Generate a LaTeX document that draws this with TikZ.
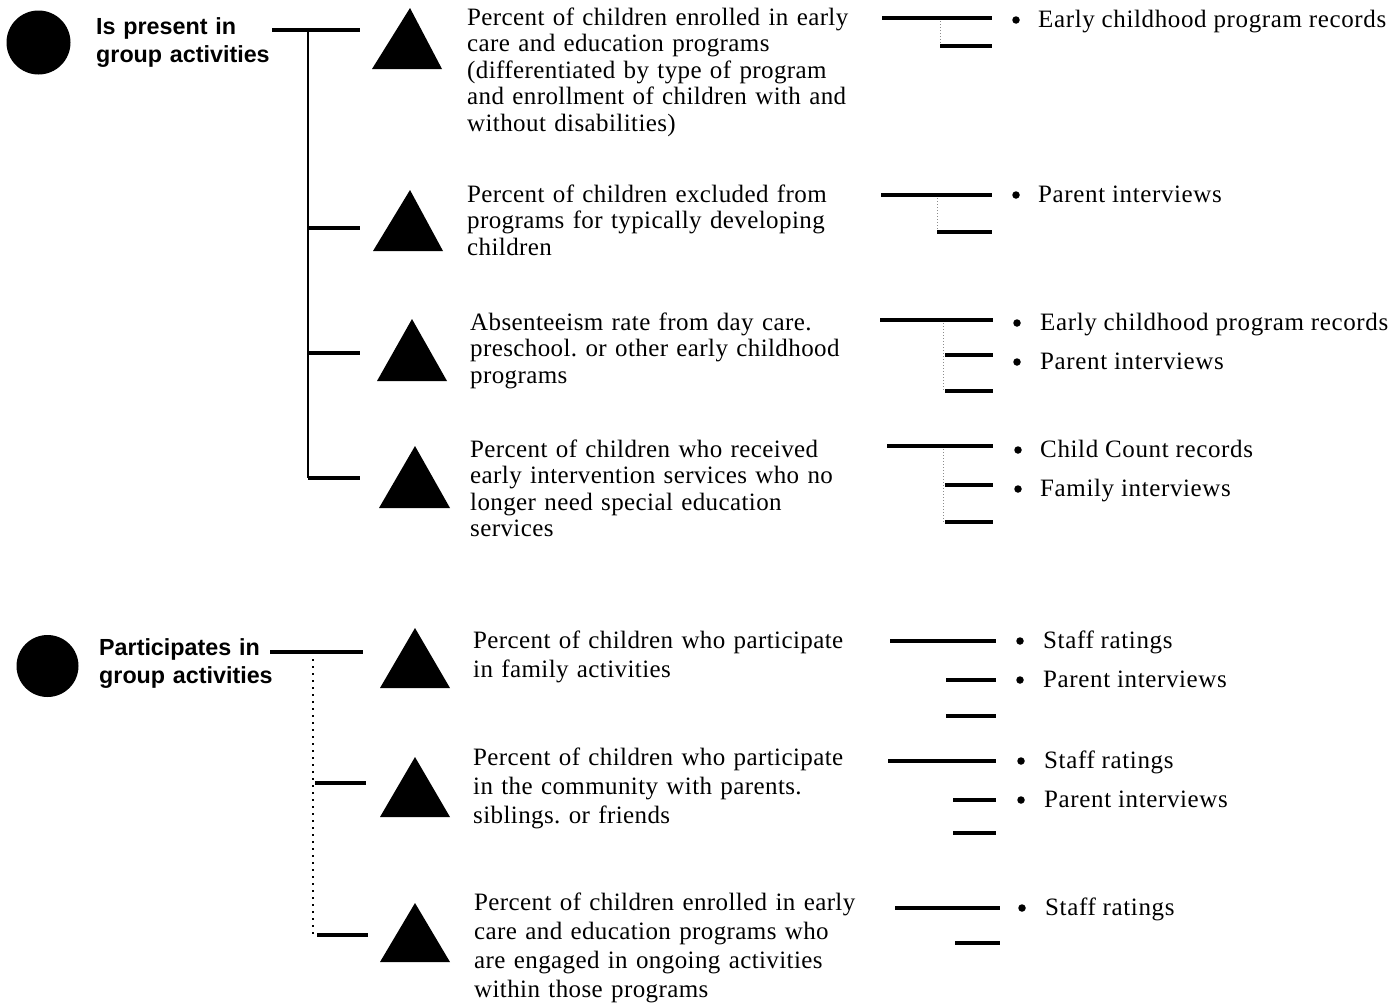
\documentclass[tikz,border=0pt]{standalone}
\usepackage{fontspec}
\setmainfont{Liberation Serif}
\newfontfamily\indfont[LetterSpace=1.6]{Liberation Serif}
\newfontfamily\srcfont[LetterSpace=2.5]{Liberation Serif}
\newfontfamily\lblfont{Liberation Sans}
\frenchspacing
\begin{document}
\begin{tikzpicture}[x=1pt,y=-1pt,
  ind/.style={anchor=base west, inner sep=0pt, text width=440pt, align=left},
  indA/.style={ind, font=\indfont\frenchspacing\fontsize{25}{26.5}\selectfont},
  indB/.style={ind, font=\indfont\frenchspacing\fontsize{25}{29}\selectfont},
  src/.style={anchor=base west, inner sep=0pt, font=\srcfont\fontsize{25}{26}\selectfont},
  lbl/.style={anchor=base west, inner sep=0pt, text width=220pt, align=left, font=\lblfont\bfseries\fontsize{23.3}{28.5}\selectfont},
  dotc/.style={circle, fill=black, inner sep=0pt, minimum size=64pt},
  bul/.style={circle, fill=black, inner sep=0pt, minimum size=7.5pt},
  bar/.style={line width=4pt},
  sbar/.style={line width=3.6pt},
  vlink/.style={line width=2.6pt},
  vfaint/.style={line width=1pt, black!45, dotted},
  tri/.style={fill=black}]
\useasboundingbox (0,0) rectangle (1392,1002);

% ---------- group circles and labels
\node[dotc] (c1) at (38.5,42.5) {};
\node[lbl] (l1) at (96,34) {Is present in\\group activities};
\node[dotc, minimum size=62pt] (c2) at (47.5,666) {};
\node[lbl] (l2) at (99,655) {Participates in\\group activities};

% ---------- left bracket, group 1
\coordinate (g1a) at (272,30);
\coordinate (g1b) at (360,30);
\coordinate (g1v) at (308,30);
\coordinate (g1e) at (308,478);
\draw[bar] (g1a) -- (g1b);
\draw[vlink] (g1v) -- (g1e);
\coordinate (b12) at (308,228); \coordinate (e12) at (360,228);
\coordinate (b13) at (308,353); \coordinate (e13) at (360,353);
\coordinate (b14) at (308,478); \coordinate (e14) at (360,478);
\draw[bar] (b12) -- (e12);
\draw[bar] (b13) -- (e13);
\draw[bar] (b14) -- (e14);

% ---------- left bracket, group 2
\coordinate (g2a) at (270,652);
\coordinate (g2b) at (363,652);
\coordinate (g2v) at (313,652);
\coordinate (g2e) at (313,935);
\draw[bar] (g2a) -- (g2b);
\draw[line width=1.8pt, dash pattern=on 2pt off 5pt] (g2v) -- (g2e);
\coordinate (b26) at (315,783); \coordinate (e26) at (366,783);
\coordinate (b27) at (317,935); \coordinate (e27) at (368,935);
\draw[bar] (b26) -- (e26);
\draw[bar] (b27) -- (e27);

% ---------- triangles
\fill[tri] (410,8) -- (442,69) -- (372,69) -- cycle;
\fill[tri] (410,190) -- (443,251) -- (373,251) -- cycle;
\fill[tri] (412,319) -- (447,381) -- (377,381) -- cycle;
\fill[tri] (415,446) -- (450,508) -- (379,508) -- cycle;
\fill[tri] (415,628) -- (450,688) -- (380,688) -- cycle;
\fill[tri] (415,757) -- (450,817) -- (380,817) -- cycle;
\fill[tri] (415,903) -- (450,962) -- (380,962) -- cycle;

% ---------- indicator texts
\node[indA] (i1) at (467,25) {Percent of children enrolled in early\\care and education programs\\(differentiated by type of program\\and enrollment of children with and\\without disabilities)};
\node[indA] (i2) at (467,202) {Percent of children excluded from\\programs for typically developing\\children};
\node[indA] (i3) at (470,330) {Absenteeism rate from day care.\\preschool. or other early childhood\\programs};
\node[indA] (i4) at (470,457) {Percent of children who received\\early intervention services who no\\longer need special education\\services};
\node[indB] (i5) at (473,648) {Percent of children who participate\\in family activities};
\node[indB] (i6) at (473,765) {Percent of children who participate\\in the community with parents.\\siblings. or friends};
\node[indB] (i7) at (474,910) {Percent of children enrolled in early\\care and education programs who\\are engaged in ongoing activities\\within those programs};

% ---------- right brackets
% row 1
\coordinate (r1a) at (882,18); \coordinate (r1b) at (992,18);
\coordinate (r1v) at (940,18); \coordinate (r1s) at (940,46); \coordinate (r1t) at (992,46);
\draw[vfaint] (r1v) -- (r1s);
\draw[bar] (r1a) -- (r1b);
\draw[sbar] (r1s) -- (r1t);
% row 2
\coordinate (r2a) at (881,195); \coordinate (r2b) at (992,195);
\coordinate (r2v) at (937,195); \coordinate (r2s) at (937,232); \coordinate (r2t) at (992,232);
\draw[vfaint] (r2v) -- (r2s);
\draw[bar] (r2a) -- (r2b);
\draw[sbar] (r2s) -- (r2t);
% row 3
\coordinate (r3a) at (880,320); \coordinate (r3b) at (993,320);
\coordinate (r3v) at (943,320); \coordinate (r3s) at (945,355); \coordinate (r3t) at (993,355);
\coordinate (r3u) at (945,391); \coordinate (r3w) at (993,391); \coordinate (r3e) at (943,391);
\draw[vfaint] (r3v) -- (r3e);
\draw[bar] (r3a) -- (r3b);
\draw[sbar] (r3s) -- (r3t);
\draw[sbar] (r3u) -- (r3w);
% row 4
\coordinate (r4a) at (887,446); \coordinate (r4b) at (993,446);
\coordinate (r4v) at (943,446); \coordinate (r4s) at (945,485); \coordinate (r4t) at (993,485);
\coordinate (r4u) at (945,522); \coordinate (r4w) at (993,522); \coordinate (r4e) at (943,522);
\draw[vfaint] (r4v) -- (r4e);
\draw[bar] (r4a) -- (r4b);
\draw[sbar] (r4s) -- (r4t);
\draw[sbar] (r4u) -- (r4w);
% row 5
\coordinate (r5a) at (890,641); \coordinate (r5b) at (996,641);
\coordinate (r5s) at (946,680); \coordinate (r5t) at (996,680);
\coordinate (r5u) at (946,716); \coordinate (r5w) at (996,716);
\draw[bar] (r5a) -- (r5b);
\draw[sbar] (r5s) -- (r5t);
\draw[sbar] (r5u) -- (r5w);
% row 6
\coordinate (r6a) at (888,761); \coordinate (r6b) at (996,761);
\coordinate (r6s) at (953,800); \coordinate (r6t) at (996,800);
\coordinate (r6u) at (953,833); \coordinate (r6w) at (996,833);
\draw[bar] (r6a) -- (r6b);
\draw[sbar] (r6s) -- (r6t);
\draw[sbar] (r6u) -- (r6w);
% row 7
\coordinate (r7a) at (895,908); \coordinate (r7b) at (1000,908);
\coordinate (r7s) at (955,943); \coordinate (r7t) at (1000,943);
\draw[bar] (r7a) -- (r7b);
\draw[sbar] (r7s) -- (r7t);

% ---------- sources
\node[bul] (p1) at (1016,20) {};
\node[src] (s1) at (1038,27) {Early childhood program records};
\node[bul] (p2) at (1016,195) {};
\node[src] (s2) at (1038,202) {Parent interviews};
\node[bul] (p3) at (1017,323) {};
\node[src] (s3) at (1040,330) {Early childhood program records};
\node[bul] (p4) at (1017,362) {};
\node[src] (s4) at (1040,369) {Parent interviews};
\node[bul] (p5) at (1018,450) {};
\node[src] (s5) at (1040,457) {Child Count records};
\node[bul] (p6) at (1018,489) {};
\node[src] (s6) at (1040,496) {Family interviews};
\node[bul] (p7) at (1020,641) {};
\node[src] (s7) at (1043,648) {Staff ratings};
\node[bul] (p8) at (1020,680) {};
\node[src] (s8) at (1043,687) {Parent interviews};
\node[bul] (p9) at (1021,761) {};
\node[src] (s9) at (1044,768) {Staff ratings};
\node[bul] (p10) at (1021,800) {};
\node[src] (s10) at (1044,807) {Parent interviews};
\node[bul] (p11) at (1022,908) {};
\node[src] (s11) at (1045,915) {Staff ratings};
\end{tikzpicture}
\end{document}
